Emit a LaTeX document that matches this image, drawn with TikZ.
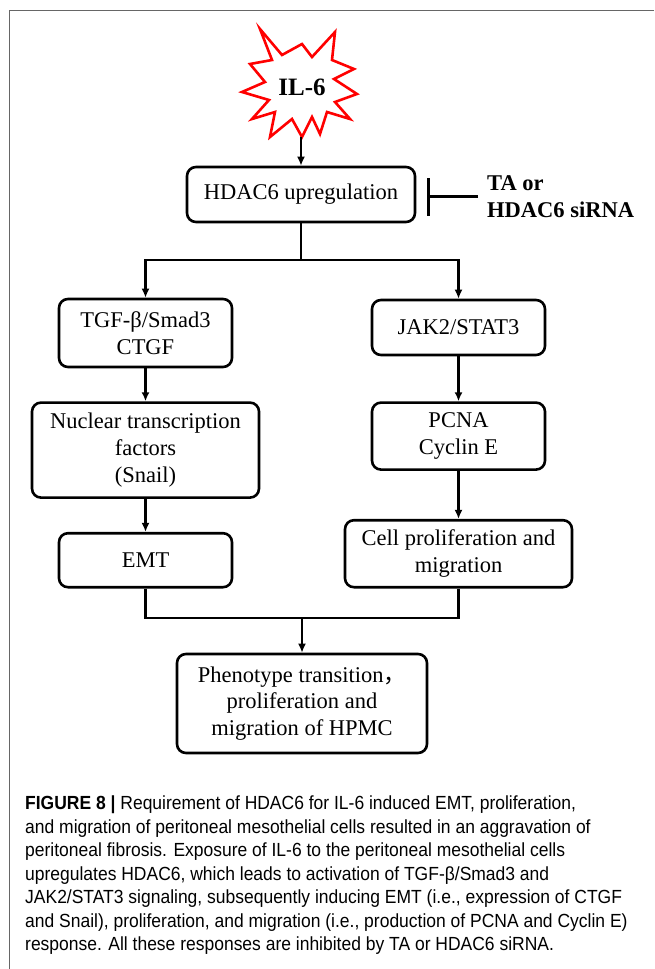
\documentclass[tikz,border=0pt]{standalone}
\usepackage{fontspec}
\setmainfont{Liberation Serif}
\newfontfamily\captionfont[FakeStretch=0.92]{Liberation Sans}
\newfontfamily\cjk{Noto Sans CJK SC}
\usetikzlibrary{arrows.meta,calc,positioning}

\begin{document}
\begin{tikzpicture}[
    x=1pt, y=-1pt,
    >={Latex[length=9pt,width=8pt]},
    every edge/.style={draw, line width=2.4pt},
    link/.style={line width=2.4pt},
    pathway/.style={rectangle, rounded corners=9pt,
                draw, line width=2.6pt, inner sep=0pt,
                minimum width=173pt, align=center,
                font=\fontsize{22.5}{26.7}\selectfont},
    burst/.style={draw=red, line width=2.6pt, line join=miter}]
  \useasboundingbox (0,0) rectangle (654,969);
  \draw[black!60, line width=1.5pt] (654,10.5) -- (9.5,10.5) -- (9.5,969);

  % stimulus
  \node[font=\bfseries\fontsize{25}{25}\selectfont] (il6) at (302,87) {IL-6};
  \draw[burst] (260,29) -- (282,55) -- (302,44) -- (312,57) -- (335,32)
    -- (332,60) -- (354,69) -- (334,79) -- (357,94) -- (335,102)
    -- (350,119) -- (327,112) -- (320,134) -- (312,117) -- (302,137)
    -- (292,119) -- (270,137) -- (275,112) -- (252,119) -- (269,100)
    -- (242,92) -- (265,82) -- (250,64) -- (272,60) -- cycle;
  \coordinate (ilbase) at (301,137);

  \node[pathway, minimum width=228pt, minimum height=55pt] (hdac) at (301,194.5) {HDAC6 upregulation};
  \draw[link, ->] (ilbase) -- (ilbase |- hdac.north);

  % inhibitor
  \node[font=\bfseries\fontsize{22.5}{26.7}\selectfont, align=left,
        anchor=west, inner sep=0pt] (ta) at (487,196.5) {TA or\\HDAC6 siRNA};
  \draw[link, -{Bar[width=38pt]}, shorten <=9pt, shorten >=11pt]
    (ta.west) -- (ta.west -| hdac.east);

  % left branch
  \node[pathway, minimum height=68pt] (tgf) at (145.5,333) {TGF-β/Smad3\\CTGF};
  \node[pathway, minimum width=227pt, minimum height=95pt] (nuclear) [below=33pt of tgf]
    {Nuclear transcription\\factors\\(Snail)}
    edge [<-] (tgf);
  \node[pathway, minimum height=54pt] (emt) [below=33pt of nuclear] {EMT}
    edge [<-] (nuclear);

  % right branch
  \node[pathway, minimum height=55pt] (jak) at (458.5,327.5) {JAK2/STAT3};
  \node[pathway, minimum height=67pt] (pcna) [below=45pt of jak] {PCNA\\Cyclin E}
    edge [<-] (jak);
  \node[pathway, minimum width=227pt, minimum height=67pt] (prolif) [below=48pt of pcna]
    {Cell proliferation and\\migration}
    edge [<-] (pcna);

  \coordinate (fork) at (301,260);
  \draw[link] (hdac) -- (fork);
  \draw[link, <->] (tgf) |- (fork) -| (jak);

  % outcome
  \node[pathway, minimum width=250pt, minimum height=99pt] (hpmc) at (302,703.5)
    {Phenotype transition{\cjk ，}\\proliferation and\\migration of HPMC};
  \coordinate (join) at (302,618);
  \draw[link] (emt) |- (join) -| (prolif);
  \draw[link, ->] (join) -- (hpmc);

  % caption
  \node[anchor=north west, align=left, inner sep=0pt,
        font=\captionfont\fontsize{19}{23.5}\selectfont] (caption) at (25,796)
    {{\bfseries FIGURE 8 |} Requirement of HDAC6 for IL-6 induced EMT, proliferation,\\
     and migration of peritoneal mesothelial cells resulted in an aggravation of\\
     peritoneal fibrosis. Exposure of IL-6 to the peritoneal mesothelial cells\\
     upregulates HDAC6, which leads to activation of TGF-β/Smad3 and\\
     JAK2/STAT3 signaling, subsequently inducing EMT (i.e., expression of CTGF\\
     and Snail), proliferation, and migration (i.e., production of PCNA and Cyclin E)\\
     response. All these responses are inhibited by TA or HDAC6 siRNA.};
\end{tikzpicture}
\end{document}
